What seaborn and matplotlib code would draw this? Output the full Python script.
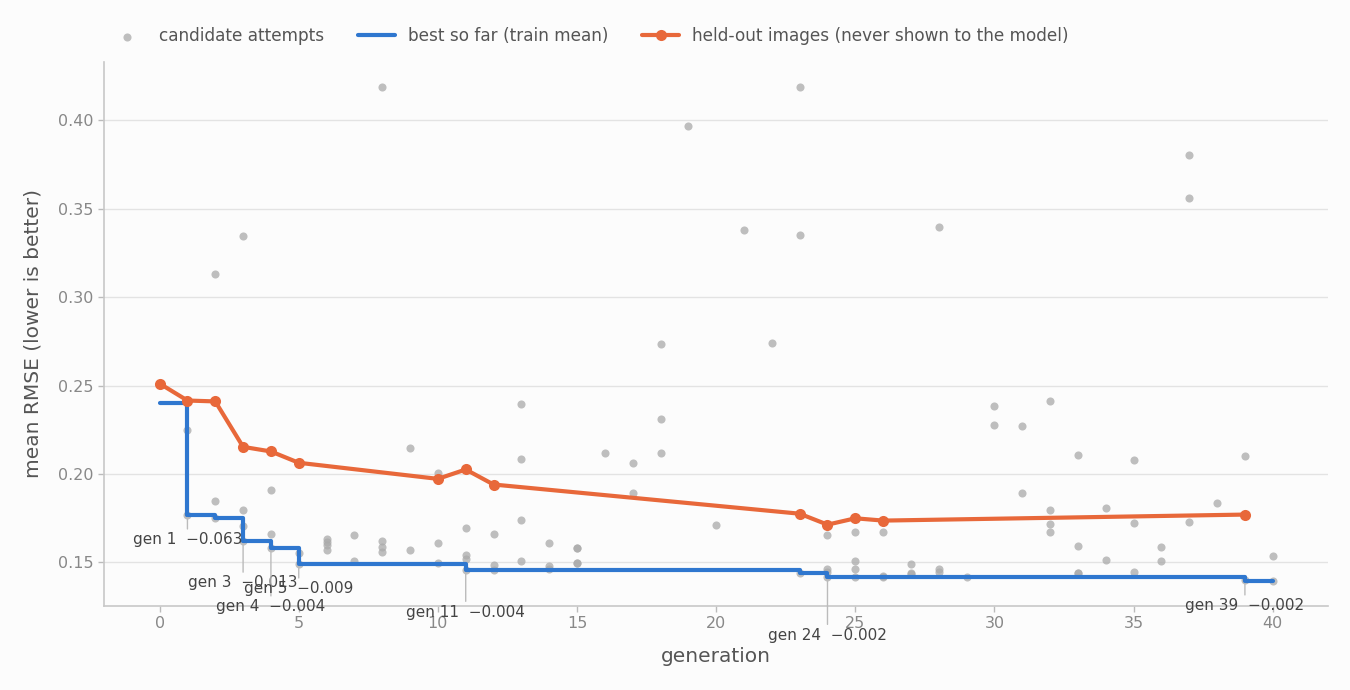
import numpy as np
import pandas as pd
import matplotlib
matplotlib.use("Agg")
import matplotlib.pyplot as plt
import seaborn as sns

# candidate attempts, one entry per scored candidate
cand_gen = [1, 1,
            2, 2, 2,
            3, 3, 3, 3,
            4, 4, 4,
            5, 5,
            6, 6, 6, 6,
            7, 7,
            8, 8, 8, 8,
            9, 9,
            10, 10, 10,
            11, 11, 11, 11,
            12, 12, 12,
            13, 13, 13, 13,
            14, 14, 14,
            15, 15, 15, 15,
            16,
            17, 17,
            18, 18, 18,
            19,
            20,
            21,
            22,
            23, 23, 23,
            24, 24, 24, 24,
            25, 25, 25, 25,
            26, 26, 26,
            27, 27, 27,
            28, 28, 28,
            29,
            30, 30,
            31, 31,
            32, 32, 32, 32,
            33, 33, 33, 33,
            34, 34,
            35, 35, 35,
            36, 36,
            37, 37, 37,
            38,
            39, 39,
            40, 40]
cand_rmse = [0.2252, 0.1771,
             0.3129, 0.1847, 0.1753,
             0.3344, 0.1796, 0.1709, 0.1620,
             0.1909, 0.1664, 0.1581,
             0.1555, 0.1493,
             0.1632, 0.1618, 0.1600, 0.1570,
             0.1654, 0.1511,
             0.4187, 0.1620, 0.1588, 0.1560,
             0.2147, 0.1573,
             0.2007, 0.1611, 0.1495,
             0.1696, 0.1541, 0.1517, 0.1455,
             0.1662, 0.1485, 0.1458,
             0.2398, 0.2084, 0.1738, 0.1511,
             0.1608, 0.1481, 0.1465,
             0.1584, 0.1582, 0.1499, 0.1497,
             0.2122,
             0.2062, 0.1892,
             0.2733, 0.2313, 0.2122,
             0.3966,
             0.1713,
             0.3383,
             0.2744,
             0.4187, 0.3350, 0.1443,
             0.1658, 0.1464, 0.1445, 0.1419,
             0.1675, 0.1507, 0.1464, 0.1420,
             0.1675, 0.1421, 0.1419,
             0.1494, 0.1438, 0.1434,
             0.3400, 0.1466, 0.1445,
             0.1420,
             0.2384, 0.2275,
             0.2271, 0.1892,
             0.2411, 0.1798, 0.1717, 0.1670,
             0.2106, 0.1592, 0.1443, 0.1441,
             0.1807, 0.1515,
             0.2079, 0.1721, 0.1445,
             0.1585, 0.1506,
             0.3802, 0.3564, 0.1728,
             0.1835,
             0.2100, 0.1400,
             0.1536, 0.1398]

# best-so-far (train mean), changes only at improving generations
best_gen = [0, 1, 2, 3, 4, 5, 11, 23, 24, 39, 40]
best_rmse = [0.240, 0.177, 0.1753, 0.162, 0.158, 0.1493, 0.1455, 0.1443, 0.1419, 0.1397, 0.1397]

# held-out images score of each new best
held_gen = [0, 1, 2, 3, 4, 5, 10, 11, 12, 23, 24, 25, 26, 39]
held_rmse = [0.2512, 0.2416, 0.2411, 0.2154, 0.2128, 0.2064, 0.1973, 0.2026,
             0.1941, 0.1776, 0.1714, 0.1750, 0.1737, 0.1771]

BLUE = '#2f77cf'
ORANGE = '#e8683a'
GREY = '#aaaaaa'
BG = '#fcfcfc'

sns.set_theme(style='whitegrid')
plt.rcParams['font.family'] = ['DejaVu Sans']

fig = plt.figure(figsize=(13.5, 6.9), dpi=100, facecolor=BG)
ax = fig.add_axes([0.077, 0.122, 0.907, 0.788])
ax.set_facecolor(BG)

cand = pd.DataFrame({'generation': cand_gen, 'rmse': cand_rmse})
best = pd.DataFrame({'generation': best_gen, 'rmse': best_rmse})
held = pd.DataFrame({'generation': held_gen, 'rmse': held_rmse})

sns.scatterplot(data=cand, x='generation', y='rmse', ax=ax, color=GREY,
                s=34, alpha=0.75, linewidth=0, label='candidate attempts', zorder=2)
sns.lineplot(data=best, x='generation', y='rmse', ax=ax, color=BLUE,
             linewidth=3, drawstyle='steps-post', label='best so far (train mean)', zorder=3)
sns.lineplot(data=held, x='generation', y='rmse', ax=ax, color=ORANGE,
             linewidth=3, marker='o', markersize=8, markeredgewidth=0,
             label='held-out images (never shown to the model)', zorder=4)

# label the notable improvements
k = 0
for i in range(1, len(best_gen)):
    delta = best_rmse[i - 1] - best_rmse[i]
    if delta < 0.0019:
        continue
    off = [-18, -30, -42][k % 3]
    ax.annotate(f'gen {best_gen[i]}  \u2212{delta:.3f}',
                xy=(best_gen[i], best_rmse[i]), xytext=(0, off),
                textcoords='offset points', ha='center', va='center',
                fontsize=11, color='#444444', annotation_clip=False,
                arrowprops=dict(arrowstyle='-', color='#bbbbbb', lw=1,
                                shrinkA=0, shrinkB=2))
    k += 1

ax.set_xlim(-2, 42)
ax.set_ylim(0.1255, 0.4330)
ax.set_xticks(range(0, 41, 5))
ax.set_yticks([0.15, 0.20, 0.25, 0.30, 0.35, 0.40])
ax.yaxis.set_major_formatter(matplotlib.ticker.FormatStrFormatter('%.2f'))

ax.grid(axis='x', visible=False)
ax.grid(axis='y', color='#e3e3e3', linewidth=1)
for side in ['top', 'right']:
    ax.spines[side].set_visible(False)
for side in ['left', 'bottom']:
    ax.spines[side].set_color('#c8c8c8')
    ax.spines[side].set_linewidth(1.2)

ax.tick_params(axis='both', colors='#bbbbbb', labelcolor='#888888',
               labelsize=11.5, length=4, width=1, bottom=True, left=True)
ax.set_xlabel('generation', fontsize=14.5, color='#555555', labelpad=11)
ax.set_ylabel('mean RMSE (lower is better)', fontsize=14.5, color='#555555', labelpad=11)

ax.legend(loc='lower left', bbox_to_anchor=(-0.010, 1.0), ncol=3, frameon=False,
          fontsize=12.2, labelcolor='#555555', handlelength=2.2, columnspacing=2.0,
          handletextpad=0.75, borderaxespad=0.6)

fig.savefig('out.png', dpi=100, facecolor=BG)
